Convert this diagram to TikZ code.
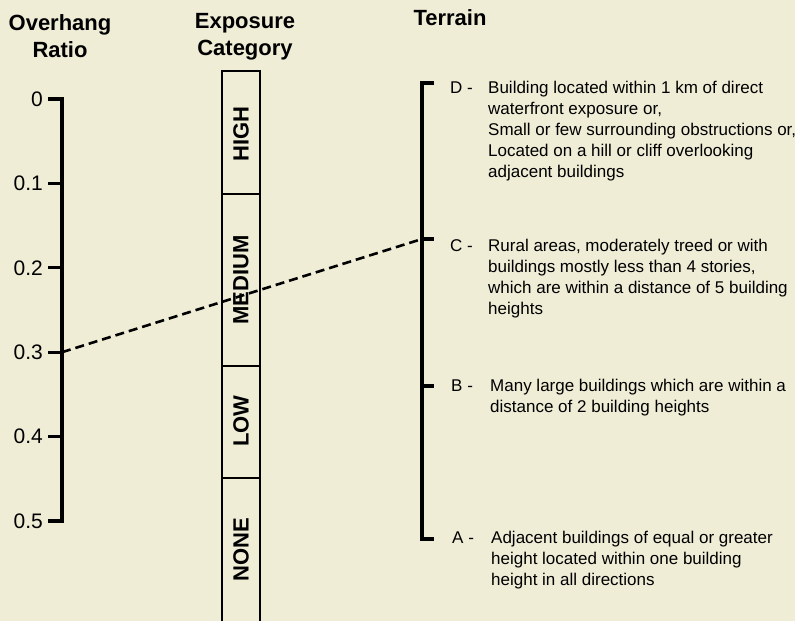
\documentclass[tikz,border=0pt]{standalone}
\usepackage{fontspec}
\setmainfont{Liberation Sans}
\usetikzlibrary{positioning}
\definecolor{paper}{RGB}{239,237,214}

\begin{document}
\begin{tikzpicture}[x=1pt,y=-1pt]

% Definitions
\tikzstyle{axis} = [line width=3.2pt]
\tikzstyle{column} = [line width=2.8pt]
\tikzstyle{Header} = [font=\fontsize{22}{27}\selectfont\bfseries, align=center, anchor=base, inner sep=0pt]
\tikzstyle{Ratio} = [font=\fontsize{21}{24}\selectfont, anchor=east, inner sep=0pt]
\tikzstyle{Category} = [font=\fontsize{22}{24}\selectfont\bfseries, rotate=90, inner sep=0pt]
\tikzstyle{Letter} = [font=\fontsize{17}{21}\selectfont, anchor=base west, inner sep=0pt]
\tikzstyle{Terrain} = [font=\fontsize{17}{21}\selectfont, align=left, anchor=base west, inner sep=0pt]
\tikzstyle{link} = [line width=2.6pt, dash pattern=on 9pt off 5pt]

\fill[paper] (0,0) rectangle (795,621);
\useasboundingbox (0,0) rectangle (795,621);

% headers (base = last line)
\node (hRatio) [Header] at (60,57) {Overhang\\Ratio};
\node (hCat) [Header] at (245,55) {Exposure\\Category};
\node (hTer) [Header] at (450,25) {Terrain};

% overhang ratio scale
\foreach \val [count=\i from 0] in {0,0.1,0.2,0.3,0.4,0.5} {
  \coordinate (r\i) at (62,99+84.4*\i);
  \draw[axis] (r\i) -- ++(-14pt,0);
  \node (lab\i) [Ratio] at (43,99+84.4*\i) {\val};
}
\draw[axis, line join=miter] ([xshift=-14pt]r0) -- (r0) -- (r5) -- ([xshift=-14pt]r5);

% exposure category column
\draw[column] (222,621) -- (222,71) -- (260,71) -- (260,621);
\draw[column] (222,194) -- (260,194);
\draw[column] (222,366) -- (260,366);
\draw[column] (222,478) -- (260,478);
\node (high) [Category] at (241,134) {HIGH};
\node (medium) [Category] at (241,280) {MEDIUM};
\node (low) [Category] at (241,421) {LOW};
\node (none) [Category] at (241,550) {NONE};

% terrain scale
\coordinate (tD) at (422,83);
\coordinate (tC) at (422,239);
\coordinate (tB) at (422,386);
\coordinate (tA) at (422,539);
\draw[axis, line join=miter] ([xshift=12pt]tD) -- (tD) -- (tA) -- ([xshift=12pt]tA);
\draw[axis] (tC) -- ++(12pt,0);
\draw[axis] (tB) -- ++(12pt,0);

\node (lD) [Letter] at (450,93) {D -};
\node (lC) [Letter] at (450,251) {C -};
\node (lB) [Letter] at (451,391) {B -};
\node (lA) [Letter] at (452,543) {A -};

% text blocks, placed by the baseline of their last line
\node (txD) [Terrain] at (488,177) {Building located within 1 km of direct\\waterfront exposure or,\\Small or few surrounding obstructions or,\\Located on a hill or cliff overlooking\\adjacent buildings};
\node (txC) [Terrain] at (488,314) {Rural areas, moderately treed or with\\buildings mostly less than 4 stories,\\which are within a distance of 5 building\\heights};
\node (txB) [Terrain] at (490,412) {Many large buildings which are within a\\distance of 2 building heights};
\node (txA) [Terrain] at (491,585) {Adjacent buildings of equal or greater\\height located within one building\\height in all directions};

% reading line
\draw[link] (r3) -- (tC);

\end{tikzpicture}
\end{document}
